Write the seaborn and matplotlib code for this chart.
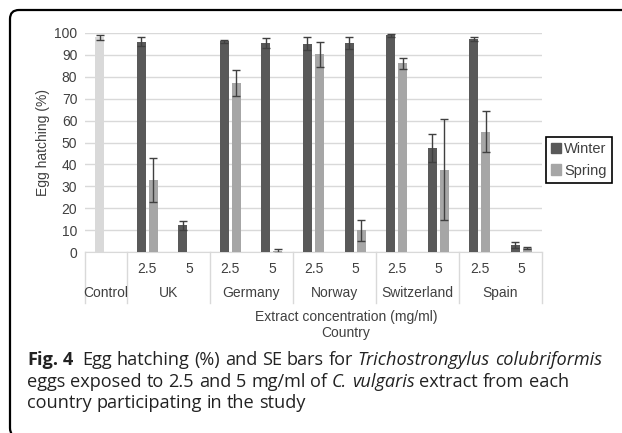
import numpy as np
import pandas as pd
import seaborn as sns
import matplotlib.pyplot as plt
from matplotlib.patches import FancyBboxPatch
from matplotlib.transforms import IdentityTransform, blended_transform_factory

# data
categories = ['Control', 'UK 2.5', 'UK 5', 'Germany 2.5', 'Germany 5', 'Norway 2.5', 'Norway 5',
              'Switzerland 2.5', 'Switzerland 5', 'Spain 2.5', 'Spain 5']
conc_labels = ['', '2.5', '5', '2.5', '5', '2.5', '5', '2.5', '5', '2.5', '5']
countries = ['Control', 'UK', 'Germany', 'Norway', 'Switzerland', 'Spain']
country_span = [1, 2, 2, 2, 2, 2]
winter = [98.0, 96.0, 12.2, 96.3, 95.5, 95.2, 95.6, 98.9, 47.3, 97.2, 3.2]
winter_se = [1.0, 2.0, 2.0, 0.7, 2.4, 2.8, 2.8, 0.6, 6.4, 1.0, 1.2]
spring = [np.nan, 32.7, 0.0, 77.2, 0.5, 90.2, 10.0, 86.1, 37.6, 55.0, 1.8]
spring_se = [np.nan, 10.0, 0.0, 6.0, 1.0, 5.7, 4.8, 2.6, 23.0, 9.5, 0.3]

plt.rcParams['font.family'] = ['Liberation Sans', 'DejaVu Sans']
txt = '#404040'
fs = 10

df = pd.concat([
    pd.DataFrame({'cat': categories, 'val': winter, 'se': winter_se, 'season': 'Winter'}),
    pd.DataFrame({'cat': categories, 'val': spring, 'se': spring_se, 'season': 'Spring'}),
])
pal = {'Winter': '#595959', 'Spring': '#a6a6a6'}

fig = plt.figure(figsize=(6.22, 4.33), dpi=100)
ax = fig.add_axes([85 / 622, 1 - 252 / 433, 457 / 622, 219 / 433])

sns.barplot(data=df.dropna(subset=['val']), x='cat', y='val', hue='season', order=categories,
            hue_order=['Winter', 'Spring'], palette=pal, width=0.58, gap=0.25,
            errorbar=None, ax=ax, zorder=3)

# error bars on top of each container
for cont, level in zip(ax.containers, ['Winter', 'Spring']):
    sub = df[(df.season == level)].dropna(subset=['val'])
    xs = [b.get_x() + b.get_width() / 2 for b in cont]
    hs = [b.get_height() for b in cont]
    ses = list(sub['se'])
    keep = [i for i, s in enumerate(ses) if s > 0]
    ax.errorbar([xs[i] for i in keep], [hs[i] for i in keep], yerr=[ses[i] for i in keep],
                fmt='none', ecolor='#404040', elinewidth=1, capsize=3, capthick=1, zorder=4)

# control bar is lighter
ax.containers[0][0].set_facecolor('#d9d9d9')

ax.set_xlim(-0.5, 10.5)
ax.set_ylim(0, 100)
ax.set_yticks(range(0, 101, 10))
ax.grid(axis='y', color='#d9d9d9', lw=1, zorder=0)
ax.set_axisbelow(True)
for s in ['top', 'right', 'left']:
    ax.spines[s].set_visible(False)
ax.spines['bottom'].set_color('#d9d9d9')
ax.tick_params(axis='y', length=0, labelsize=fs, pad=5.5, labelcolor=txt)
ax.set_xticks(range(len(categories)))
ax.set_xticklabels(conc_labels)
ax.tick_params(axis='x', length=0, labelsize=fs, pad=7.5, labelcolor=txt)
ax.set_xlabel('')
ax.set_ylabel('Egg hatching (%)', fontsize=fs, color=txt, labelpad=3)
ax.get_legend().remove()

# country row and separators
tr = blended_transform_factory(ax.transData, ax.transAxes)
pos = -0.5
bounds = [pos]
for name, n in zip(countries, country_span):
    ax.text(pos + n / 2, -41 / 219, name, transform=tr, ha='center', va='center',
            fontsize=fs, color=txt)
    pos += n
    bounds.append(pos)
for b in bounds:
    ax.plot([b, b], [0, -51 / 219], transform=tr, color='#d9d9d9', lw=1, clip_on=False)

fig.text(346 / 622, 1 - 317 / 433, 'Extract concentration (mg/ml)', ha='center', va='center',
         fontsize=fs, color=txt)
fig.text(346 / 622, 1 - 333 / 433, 'Country', ha='center', va='center',
         fontsize=fs, color=txt)

handles = [plt.Rectangle((0, 0), 1, 1, color=pal[k]) for k in ['Winter', 'Spring']]
leg = fig.legend(handles, ['Winter', 'Spring'], loc='center left', borderaxespad=0,
                 bbox_to_anchor=(546 / 622, 1 - 160 / 433), fancybox=False, edgecolor='black',
                 fontsize=10.5, handlelength=0.7, handleheight=0.7, handletextpad=0.2,
                 borderpad=0.35, labelspacing=0.5, framealpha=1)
leg.get_frame().set_linewidth(1.2)
for t in leg.get_texts():
    t.set_color(txt)

# outer frame with rounded corners on the left, right and bottom run off the picture
frame = FancyBboxPatch((10, -4), 3000, 427, boxstyle='round,pad=0,rounding_size=9',
                       transform=IdentityTransform(), fill=False, edgecolor='black', lw=1.6)
fig.add_artist(frame)

# caption, word by word so bold / italic pieces line up
r = fig.canvas.get_renderer()
cap_size = 13.1
cap_font = ['Open Sans', 'Noto Sans', 'DejaVu Sans']


def cap_width(s, **kw):
    t = fig.text(0, 0, s, fontsize=cap_size, family=cap_font, **kw)
    w = t.get_window_extent(r).width
    t.remove()
    return w


space = cap_width('x x') - cap_width('xx')


def cap_line(y_px, parts):
    x = 27
    for s, kw in parts:
        for i, word in enumerate(s.split(' ')):
            if word:
                t = fig.text(x, 433 - y_px, word, transform=IdentityTransform(), ha='left',
                             va='center', fontsize=cap_size, family=cap_font,
                             color='#222222', **kw)
                x += t.get_window_extent(r).width
            x += space
        x -= space


cap_line(360, [('Fig. 4', dict(weight='bold')), ('  Egg hatching (%) and SE bars for ', {}),
               ('Trichostrongylus colubriformis', dict(style='italic'))])
cap_line(382, [('eggs exposed to 2.5 and 5 mg/ml of ', {}), ('C. vulgaris', dict(style='italic')),
               (' extract from each', {})])
cap_line(403, [('country participating in the study', {})])

fig.savefig('out.png', dpi=100)
